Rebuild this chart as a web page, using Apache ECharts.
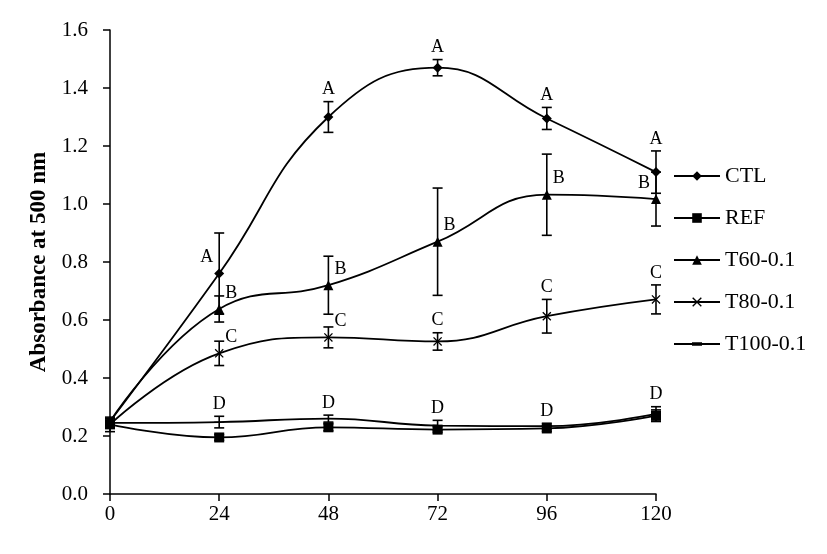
<!DOCTYPE html>
<html>
<head>
<meta charset="utf-8">
<script src="https://cdn.jsdelivr.net/npm/echarts@6/dist/echarts.min.js"></script>
<style>html,body{margin:0;padding:0;background:#fff}#c{width:827px;height:554px}</style>
</head>
<body>
<div id="c"></div>
<script>
var hours = [0, 24, 48, 72, 96, 120];
var yTicks = [0, 0.2, 0.4, 0.6, 0.8, 1.0, 1.2, 1.4, 1.6];

var ctl = [0.25, 0.76, 1.30, 1.47, 1.295, 1.11];
var ctlErr = [0.01, 0.14, 0.053, 0.028, 0.038, 0.073];
var ctlLetters = ['', 'A', 'A', 'A', 'A', 'A'];
var ctlPos = ['', 'left', 'top', 'top', 'top', 'top'];

var ref = [0.24, 0.195, 0.23, 0.222, 0.226, 0.27];
var refErr = [0.025, 0.01, 0.012, 0.01, 0.01, 0.02];
var refLetters = ['', '', '', '', '', ''];
var refPos = ['', '', '', '', '', ''];

var t60 = [0.25, 0.638, 0.72, 0.87, 1.032, 1.017];
var t60Err = [0.01, 0.045, 0.1, 0.185, 0.14, 0.093];
var t60Letters = ['', 'B', 'B', 'B', 'B', 'B'];
var t60Pos = ['', 'right', 'right', 'right', 'right', 'left'];

var t80 = [0.24, 0.485, 0.54, 0.526, 0.613, 0.671];
var t80Err = [0.01, 0.042, 0.036, 0.03, 0.058, 0.05];
var t80Letters = ['', 'C', 'C', 'C', 'C', 'C'];
var t80Pos = ['', 'right', 'right', 'top', 'top', 'top'];

var t100 = [0.245, 0.248, 0.26, 0.236, 0.234, 0.276];
var t100Err = [0.01, 0.02, 0.012, 0.018, 0.01, 0.025];
var t100Letters = ['', 'D', 'D', 'D', 'D', 'D'];
var t100Pos = ['', 'top', 'top', 'top', 'top', 'top'];

var FONT = '"Liberation Serif", "Times New Roman", serif';

function pairs(vals) {
  return hours.map(function (h, i) { return [h, vals[i]]; });
}

function lineSeries(name, vals, symbol, size) {
  return {
    name: name, type: 'line', data: pairs(vals), smooth: 0.45,
    symbol: symbol, symbolSize: size, showAllSymbol: true, symbolKeepAspect: true,
    lineStyle: { color: '#000', width: 1.8 },
    itemStyle: { color: '#000' },
    z: 3
  };
}

function errSeries(name, vals, errs, letters, pos) {
  return {
    name: name + '-err', type: 'custom',
    data: hours.map(function (h, i) { return [h, vals[i], errs[i]]; }),
    z: 2,
    renderItem: function (params, api) {
      var i = params.dataIndex;
      var x = api.value(0), y = api.value(1), e = api.value(2);
      var p = api.coord([x, y]);
      var t = api.coord([x, y + e]);
      var b = api.coord([x, y - e]);
      var st = { stroke: '#000', lineWidth: 1.6 };
      var ch = [
        { type: 'line', shape: { x1: p[0], y1: t[1], x2: p[0], y2: b[1] }, style: st },
        { type: 'line', shape: { x1: p[0] - 5, y1: t[1], x2: p[0] + 5, y2: t[1] }, style: st },
        { type: 'line', shape: { x1: p[0] - 5, y1: b[1], x2: p[0] + 5, y2: b[1] }, style: st }
      ];
      var L = letters[i];
      if (L) {
        var tx, ty, al, va;
        if (pos[i] === 'top') { tx = p[0]; ty = t[1] - 3; al = 'center'; va = 'bottom'; }
        else if (pos[i] === 'right') { tx = p[0] + 6; ty = p[1] - 16; al = 'left'; va = 'middle'; }
        else { tx = p[0] - 6; ty = p[1] - 16; al = 'right'; va = 'middle'; }
        ch.push({ type: 'text', x: tx, y: ty,
          style: { text: L, fill: '#000', font: '18px ' + FONT, textAlign: al, textVerticalAlign: va } });
      }
      return { type: 'group', children: ch };
    }
  };
}

var xSym = 'path://M0,1 L1,0 L5,4 L9,0 L10,1 L6,5 L10,9 L9,10 L5,6 L1,10 L0,9 L4,5 Z';
var dashSym = 'path://M0,0 L10,0 L10,3 L0,3 Z';
var dashLegendIcon = 'path://M0,5.1 L46,5.1 L46,6.9 L0,6.9 Z M18,4.3 L28,4.3 L28,7.7 L18,7.7 Z';

var chart = echarts.init(document.getElementById('c'), null, { renderer: 'canvas' });
chart.setOption({
  animation: false,
  backgroundColor: '#fff',
  grid: { left: 110, right: 171, top: 30, bottom: 60, containLabel: false },
  legend: {
    data: ['CTL', 'REF', 'T60-0.1', 'T80-0.1', { name: 'T100-0.1', icon: dashLegendIcon }],
    orient: 'vertical', left: 668, top: 160, itemGap: 20,
    itemWidth: 46, itemHeight: 12,
    textStyle: { fontFamily: FONT, fontSize: 22, color: '#000' }
  },
  xAxis: {
    type: 'value', min: 0, max: 120, interval: 24,
    axisLine: { lineStyle: { color: '#000', width: 1.5 } },
    axisTick: { show: true, length: 7, lineStyle: { color: '#000', width: 1.5 } },
    axisLabel: { color: '#000', fontFamily: FONT, fontSize: 21, margin: 10 },
    splitLine: { show: false }
  },
  yAxis: {
    type: 'value', min: yTicks[0], max: yTicks[yTicks.length - 1], interval: 0.2,
    name: 'Absorbance at 500 nm', nameLocation: 'middle', nameGap: 57,
    nameTextStyle: { color: '#000', fontFamily: FONT, fontSize: 23, fontWeight: 'bold' },
    axisLine: { show: true, lineStyle: { color: '#000', width: 1.5 } },
    axisTick: { show: true, length: 7, lineStyle: { color: '#000', width: 1.5 } },
    axisLabel: { color: '#000', fontFamily: FONT, fontSize: 21, margin: 22,
      formatter: function (v) { return v.toFixed(1); } },
    splitLine: { show: false }
  },
  series: [
    errSeries('CTL', ctl, ctlErr, ctlLetters, ctlPos),
    errSeries('REF', ref, refErr, refLetters, refPos),
    errSeries('T60-0.1', t60, t60Err, t60Letters, t60Pos),
    errSeries('T80-0.1', t80, t80Err, t80Letters, t80Pos),
    errSeries('T100-0.1', t100, t100Err, t100Letters, t100Pos),
    lineSeries('CTL', ctl, 'diamond', 10),
    lineSeries('REF', ref, 'rect', 10),
    lineSeries('T60-0.1', t60, 'triangle', 10),
    lineSeries('T80-0.1', t80, xSym, 9),
    lineSeries('T100-0.1', t100, dashSym, [10, 3])
  ]
});
</script>
</body>
</html>
